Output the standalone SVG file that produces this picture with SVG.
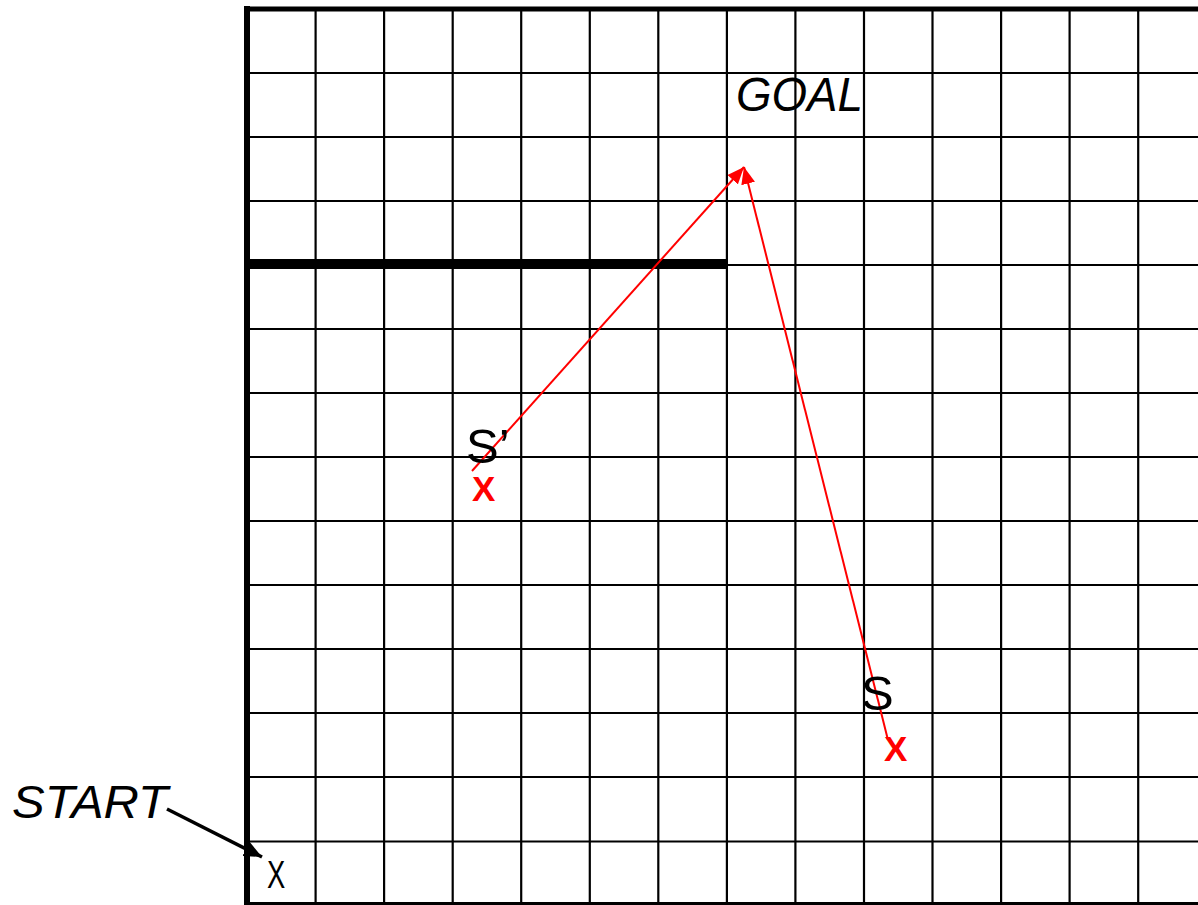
<svg xmlns="http://www.w3.org/2000/svg" width="1198" height="905" viewBox="0 0 1198 905">
<style>
.grid line{stroke:#000;stroke-width:2.2}
.border{stroke:#000;stroke-width:6;fill:none}
.lbl{font-family:"Liberation Sans",Arial,sans-serif;fill:#000}
.it{font-style:italic}
.mark{font-family:"Liberation Sans",Arial,sans-serif;font-weight:bold;fill:#ff0000}
.red{stroke:#ff0000;stroke-width:2;fill:none}
</style>
<defs>
<marker id="ah-red" markerUnits="userSpaceOnUse" markerWidth="20" markerHeight="14" refX="17" refY="7" orient="auto">
<path d="M0,0 L17,7 L0,14 Z" fill="#ff0000"/>
</marker>
<marker id="ah-black" markerUnits="userSpaceOnUse" markerWidth="20" markerHeight="16" refX="18" refY="8" orient="auto">
<path d="M0,0 L18,8 L0,16 Z" fill="#000"/>
</marker>
</defs>
<rect width="1198" height="905" fill="#fff"/>
<g id="grid" class="grid">
<line x1="315.6" y1="9" x2="315.6" y2="905"/>
<line x1="384.1" y1="9" x2="384.1" y2="905"/>
<line x1="452.7" y1="9" x2="452.7" y2="905"/>
<line x1="521.2" y1="9" x2="521.2" y2="905"/>
<line x1="589.8" y1="9" x2="589.8" y2="905"/>
<line x1="658.3" y1="9" x2="658.3" y2="905"/>
<line x1="726.9" y1="9" x2="726.9" y2="905"/>
<line x1="795.4" y1="9" x2="795.4" y2="905"/>
<line x1="864" y1="9" x2="864" y2="905"/>
<line x1="932.5" y1="9" x2="932.5" y2="905"/>
<line x1="1001.1" y1="9" x2="1001.1" y2="905"/>
<line x1="1069.6" y1="9" x2="1069.6" y2="905"/>
<line x1="1138.2" y1="9" x2="1138.2" y2="905"/>
<line x1="247" y1="73" x2="1198" y2="73"/>
<line x1="247" y1="137" x2="1198" y2="137"/>
<line x1="247" y1="201" x2="1198" y2="201"/>
<line x1="247" y1="265" x2="1198" y2="265"/>
<line x1="247" y1="329" x2="1198" y2="329"/>
<line x1="247" y1="393" x2="1198" y2="393"/>
<line x1="247" y1="457" x2="1198" y2="457"/>
<line x1="247" y1="521" x2="1198" y2="521"/>
<line x1="247" y1="585" x2="1198" y2="585"/>
<line x1="247" y1="649" x2="1198" y2="649"/>
<line x1="247" y1="713" x2="1198" y2="713"/>
<line x1="247" y1="777" x2="1198" y2="777"/>
<line x1="247" y1="841.5" x2="1198" y2="841.5"/>
</g>
<g id="border">
<line class="border" x1="247" y1="6" x2="247" y2="905"/>
<line class="border" x1="244" y1="9" x2="1198" y2="9" style="stroke-width:5"/>
<line class="border" x1="244" y1="905" x2="1198" y2="905"/>
</g>
<g id="wall">
<rect x="247" y="259" width="480" height="10" fill="#000"/>
</g>
<g id="connectors">
<line class="red" x1="472" y1="471" x2="744" y2="167" marker-end="url(#ah-red)"/>
<line class="red" x1="888" y1="740" x2="744" y2="167" marker-end="url(#ah-red)"/>
<line x1="167" y1="809" x2="262" y2="857" stroke="#000" stroke-width="3.5" marker-end="url(#ah-black)"/>
</g>
<g id="goal">
<text class="lbl it" x="736" y="111" font-size="48" textLength="127" lengthAdjust="spacingAndGlyphs">GOAL</text>
</g>
<g id="s-prime">
<text class="lbl" x="466" y="463" font-size="49">S’</text>
<text class="mark" x="472" y="501" font-size="35">X</text>
</g>
<g id="s">
<text class="lbl" x="861" y="710" font-size="49">S</text>
<text class="mark" x="884" y="761" font-size="35">X</text>
</g>
<g id="start">
<text class="lbl it" x="12" y="818" font-size="46" textLength="156" lengthAdjust="spacingAndGlyphs">START</text>
</g>
<g id="start-cell">
<text class="lbl" transform="translate(267,888) scale(0.72,1)" x="0" y="0" font-size="38">X</text>
</g>
</svg>
